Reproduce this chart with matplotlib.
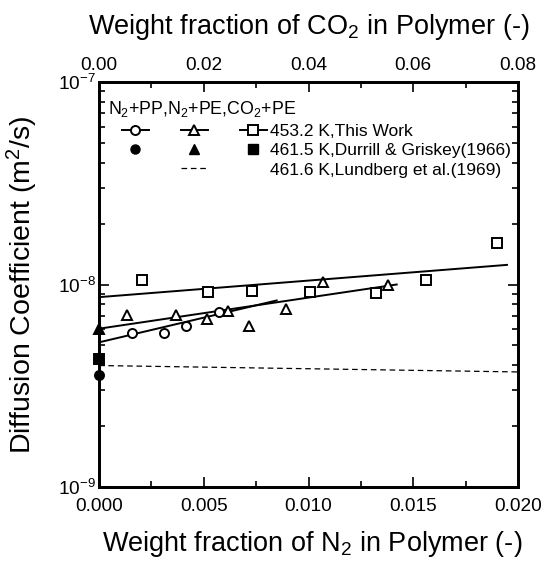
import matplotlib
matplotlib.use('Agg')
import matplotlib.pyplot as plt
from matplotlib.lines import Line2D
from matplotlib.legend_handler import HandlerTuple
from matplotlib.ticker import MultipleLocator, FormatStrFormatter, LogLocator, LogFormatterMathtext, NullFormatter

plt.rcParams['font.family'] = ['Liberation Sans', 'DejaVu Sans']
plt.rcParams['mathtext.fontset'] = 'custom'
plt.rcParams['mathtext.rm'] = 'Liberation Sans'
plt.rcParams['mathtext.it'] = 'Liberation Sans:italic'
plt.rcParams['mathtext.bf'] = 'Liberation Sans:bold'

# N2 + PP, 453.2 K (this work)
n2pp_w = [0.00156, 0.00310, 0.00415, 0.00573]
n2pp_D = [5.78e-9, 5.75e-9, 6.26e-9, 7.28e-9]
n2pp_fit_w = [0.0, 0.00848]
n2pp_fit_D = [5.18e-9, 8.34e-9]

# N2 + PE, 453.2 K (this work)
n2pe_w = [0.00135, 0.00366, 0.00514, 0.00614, 0.00717, 0.00893, 0.01071, 0.01381]
n2pe_D = [7.04e-9, 7.04e-9, 6.78e-9, 7.38e-9, 6.21e-9, 7.59e-9, 1.026e-8, 9.97e-9]
n2pe_fit_w = [0.0, 0.01421]
n2pe_fit_D = [6.05e-9, 1.0e-8]

# CO2 + PE, 453.2 K (this work) -> top axis
co2pe_w = [0.00815, 0.02087, 0.02921, 0.04034, 0.05289, 0.06244, 0.07605]
co2pe_D = [1.058e-8, 9.21e-9, 9.34e-9, 9.16e-9, 9.10e-9, 1.058e-8, 1.60e-8]
co2pe_fit_w = [0.0, 0.0779]
co2pe_fit_D = [8.66e-9, 1.25e-8]

# 461.5 K, Durrill & Griskey (1966), infinite dilution
durrill_pp = 3.56e-9
durrill_pe = 6.0e-9
durrill_co2 = 4.27e-9

# 461.6 K, Lundberg et al. (1969)
lund_w = [0.0, 0.02]
lund_D = [3.98e-9, 3.70e-9]

fig = plt.figure(figsize=(5.44, 5.61), dpi=100)
ax = fig.add_axes([99/544, 1-487/561, 419/544, 405/561])
ax2 = ax.twiny()

ax.set_yscale('log')
ax.set_ylim(1e-9, 1e-7)
ax.set_xlim(0, 0.02)
ax2.set_xlim(0, 0.08)

lw = 1.4
ax.plot(n2pp_fit_w, n2pp_fit_D, color='k', lw=lw)
ax.plot(n2pe_fit_w, n2pe_fit_D, color='k', lw=lw)
ax2.plot(co2pe_fit_w, co2pe_fit_D, color='k', lw=lw)
ax.plot(lund_w, lund_D, color='k', lw=0.9, dashes=(4.5, 3))

mk = dict(color='k', ls='none', mec='k', mew=1.4, clip_on=False, zorder=5)
ax.plot(n2pp_w, n2pp_D, marker='o', ms=6.5, mfc='w', **mk)
ax.plot(n2pe_w, n2pe_D, marker='^', ms=7.5, mfc='w', **mk)
ax2.plot(co2pe_w, co2pe_D, marker='s', ms=6.5, mfc='w', **mk)
ax.plot([0.0], [durrill_pp], marker='o', ms=6.5, mfc='k', **mk)
ax.plot([0.0], [durrill_pe], marker='^', ms=7.5, mfc='k', **mk)
ax.plot([0.0], [durrill_co2], marker='s', ms=6.5, mfc='k', **mk)

# ticks
ax.xaxis.set_major_locator(MultipleLocator(0.005))
ax.xaxis.set_minor_locator(MultipleLocator(0.0025))
ax.xaxis.set_major_formatter(FormatStrFormatter('%.3f'))
ax2.xaxis.set_major_locator(MultipleLocator(0.02))
ax2.xaxis.set_minor_locator(MultipleLocator(0.01))
ax2.xaxis.set_major_formatter(FormatStrFormatter('%.2f'))
ax.yaxis.set_major_locator(LogLocator(base=10))
ax.yaxis.set_minor_locator(LogLocator(base=10, subs=range(2, 10)))
ax.yaxis.set_major_formatter(LogFormatterMathtext())
ax.yaxis.set_minor_formatter(NullFormatter())

for a in (ax, ax2):
    a.tick_params(which='both', direction='in', width=1.2, labelsize=13.7)
    a.tick_params(which='major', length=7)
    a.tick_params(which='minor', length=4)
    for s in a.spines.values():
        s.set_linewidth(2)
ax.tick_params(axis='y', which='both', right=True, pad=2)
ax.tick_params(axis='x', which='both', pad=8)
ax2.tick_params(axis='x', which='both', pad=6)

ax.set_xlabel('Weight fraction of N$_\\mathregular{2}$ in Polymer (-)', fontsize=19.5)
ax.xaxis.set_label_coords(0.51, -0.103)
ax.xaxis.label.set_va('top')
ax2.set_xlabel('Weight fraction of CO$_\\mathregular{2}$ in Polymer (-)', fontsize=19.5)
ax2.xaxis.set_label_coords(0.5, 1.098)
ax2.xaxis.label.set_va('bottom')
ax.set_ylabel('Diffusion Coefficient (m$^\\mathregular{2}$/s)', fontsize=20.5)
ax.yaxis.set_label_coords(-0.14, 0.5)

# legend
ms_leg = dict(color='k', mec='k', mew=1.4, lw=1.4)
h_open = (Line2D([], [], marker='o', ms=6.5, mfc='w', **ms_leg),
          Line2D([], [], marker='^', ms=7.5, mfc='w', **ms_leg),
          Line2D([], [], marker='s', ms=6.5, mfc='w', **ms_leg))
h_fill = (Line2D([], [], marker='o', ms=6.5, mfc='k', ls='none', color='k'),
          Line2D([], [], marker='^', ms=7.5, mfc='k', ls='none', color='k'),
          Line2D([], [], marker='s', ms=6.5, mfc='k', ls='none', color='k'))
h_dash = (Line2D([], [], ls='none'),
          Line2D([], [], color='k', lw=0.9, dashes=(4.5, 3)),
          Line2D([], [], ls='none'))
ax2.legend([h_open, h_fill, h_dash],
           ['453.2 K,This Work', '461.5 K,Durrill & Griskey(1966)', '461.6 K,Lundberg et al.(1969)'],
           handler_map={tuple: HandlerTuple(ndivide=None, pad=1.84)},
           loc='upper left', bbox_to_anchor=(0.054, 0.897), frameon=False,
           borderpad=0, borderaxespad=0, handlelength=8.35, handletextpad=0.2,
           labelspacing=0.24, fontsize=12.5, numpoints=1)
ax2.text(0.0215, 0.92, 'N$_\\mathregular{2}$+PP,N$_\\mathregular{2}$+PE,CO$_\\mathregular{2}$+PE',
         transform=ax2.transAxes, fontsize=12.8, va='baseline', ha='left')

fig.savefig('out.png', dpi=100)
